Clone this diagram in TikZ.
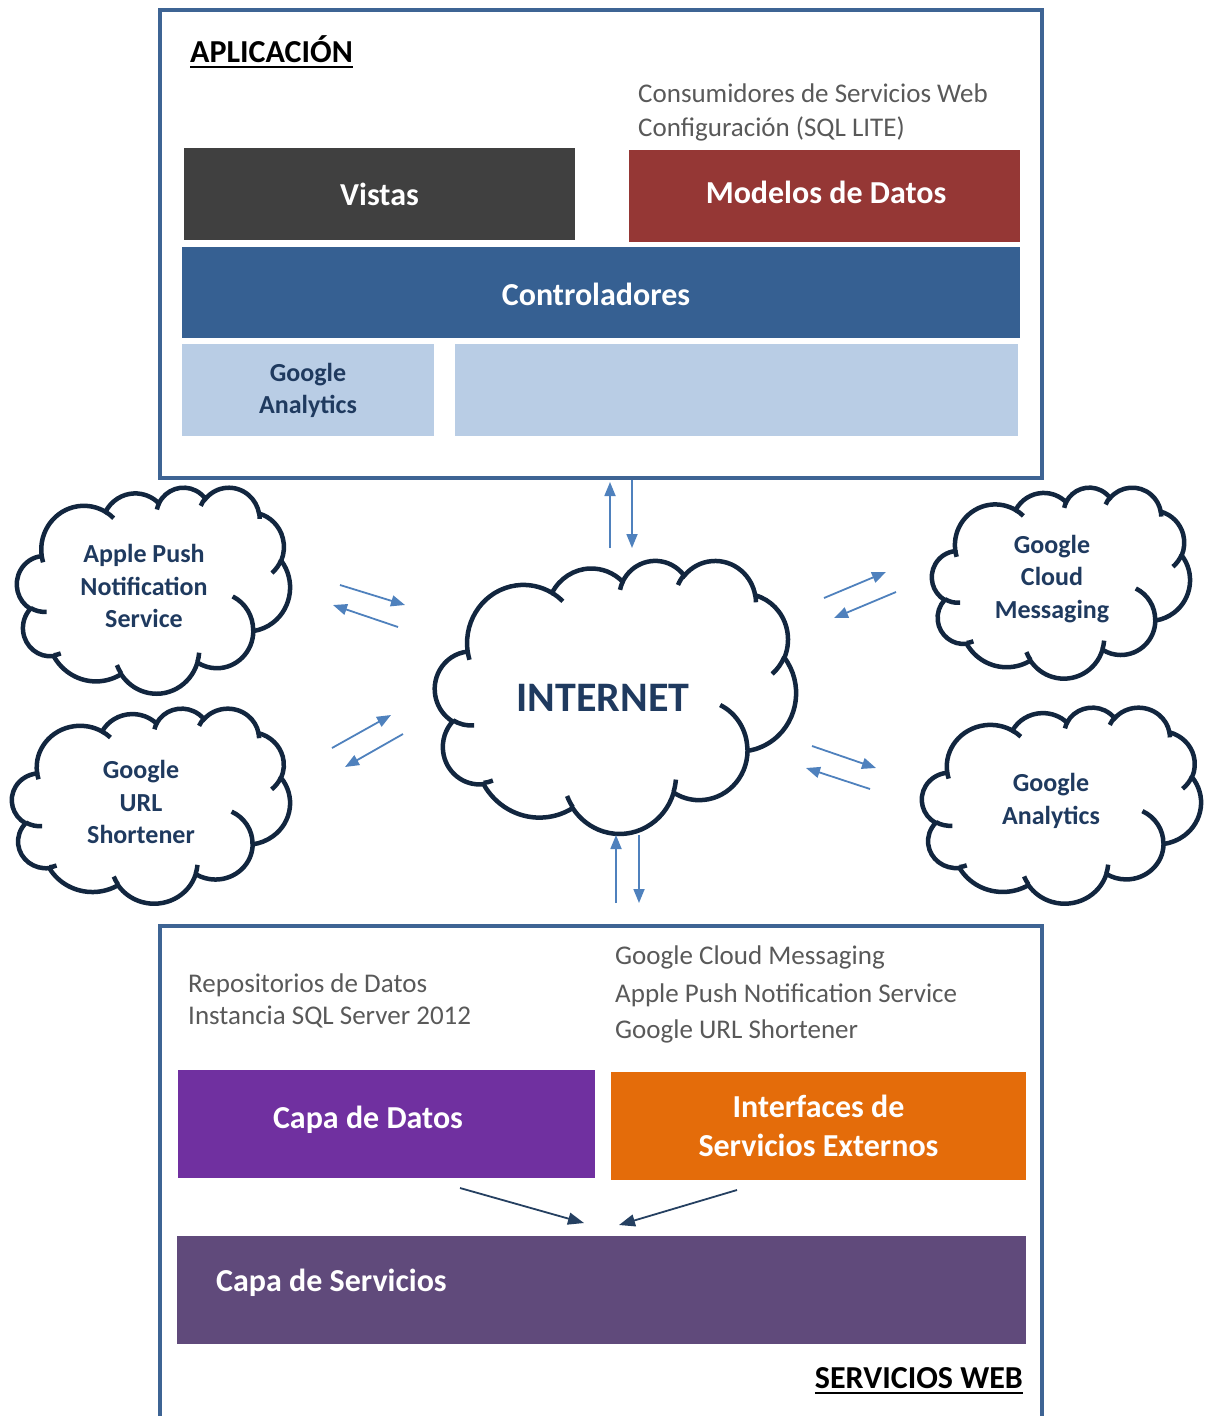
\documentclass[tikz,border=0pt]{standalone}
\usepackage{fontspec}
\setmainfont{Carlito}
\usetikzlibrary{arrows.meta,positioning}
\definecolor{framecol}{HTML}{3E6494}
\definecolor{cloudline}{HTML}{12263F}
\definecolor{cloudtext}{HTML}{1F3A5F}
\definecolor{flowblue}{HTML}{4F81BD}
\definecolor{notegray}{HTML}{595959}
\definecolor{vistagray}{HTML}{404040}
\definecolor{modelred}{HTML}{953735}
\definecolor{ctrlblue}{HTML}{366092}
\definecolor{lightblue}{HTML}{B9CDE5}
\definecolor{datapurple}{HTML}{7030A0}
\definecolor{extorange}{HTML}{E46C0A}
\definecolor{servpurple}{HTML}{604A7B}
\definecolor{darkarrow}{HTML}{254061}

% visual angle -> parametric angle of an ellipse arc
\pgfmathdeclarefunction{ppa}{3}{%
  \begingroup
    \pgfmathparse{atan2(#2*sin(#1),#3*cos(#1))}%
    \pgfmathsetmacro\ppat{\pgfmathresult}%
    \pgfmathparse{\ppat+360*round((#1-\ppat)/360)}%
    \pgfmathsmuggle\pgfmathresult
  \endgroup}

% cloud outline, unit box 4320 x 4320
\def\cloudouter{675.3/919.0/-190.48748/123.78053, 533.3/726.7/-144.10238/89.94523,
  436.5/594.5/-145.80792/99.72302, 485.7/659.5/-130.98607/117.24173,
  533.3/727.3/-78.70888/109.02692, 677.5/922.0/-46.26725/130.269,
  578.5/786.7/0.62502/114.03333, 675.2/921.5/22.4516/115.17255,
  772.0/1054.3/66.24263/75.71102, 436.0/591.8/-274.94208/146.73557,
  434.5/594.5/-246.8285/152.51885}
\def\cloudinner{469.3/2617.7/434.5/594.5/86.742/26.4295, 692.8/3489.9/436.0/591.8/73.6105/11.4475,
  1647.8/3909.0/675.2/921.5/137.6242/14.0811, 2882.7/3475.1/675.2/921.5/6.4533/15.9984,
  3412.9/2295.4/578.5/786.7/-70.2924/70.9174, 4179.8/1535.4/533.3/727.3/30.3180/27.7515,
  3832.4/542.6/485.7/659.5/-13.7443/14.8589, 2907.8/395.2/485.7/659.5/-149.1815/18.1954,
  2214.1/472.0/436.5/594.5/-163.4943/17.6864, 1400.0/519.2/675.3/919.0/-66.7070/12.3194,
  412.7/1578.9/675.3/919.0/157.6544/11.8582}

\newcommand{\officecloud}[4]{%
  \pgfmathsetmacro\cldw{#3/4320}%
  \pgfmathsetmacro\cldh{#4/4320}%
  \begin{scope}[shift={(#1,#2)}, x=\cldw pt, y=-\cldh pt]
    \draw[cloudedge, fill=white] (390,1437)
      \foreach \rx/\ry/\sa/\sw in \cloudouter {
        arc[x radius=\rx, y radius=\ry, start angle={ppa(\sa,\rx,\ry)}, end angle={ppa(\sa+\sw,\rx,\ry)}]
      } -- cycle;
    \draw[cloudedge]
      \foreach \px/\py/\rx/\ry/\sa/\sw in \cloudinner {
        (\px,\py) arc[x radius=\rx, y radius=\ry, start angle={ppa(\sa,\rx,\ry)}, end angle={ppa(\sa+\sw,\rx,\ry)}]
      };
  \end{scope}}

\begin{document}
\begin{tikzpicture}[x=1pt,y=-1pt,
    layer/.style={inner sep=0, text=white, align=center, font=\bfseries\fontsize{32}{39}\selectfont},
    cloudedge/.style={draw=cloudline, line width=4.5pt},
    cloudtxt/.style={text=cloudtext, align=center, inner sep=0, font=\bfseries\fontsize{26}{32.5}\selectfont},
    flow/.style={draw=flowblue, line width=1.8pt, -{Triangle[length=14pt,width=11pt]}},
    feed/.style={draw=darkarrow, line width=1.8pt, -{Triangle[length=16pt,width=12pt]}},
    note/.style={text=notegray, anchor=base west, inner sep=0, font=\fontsize{27}{32}\selectfont},
    title/.style={inner sep=0, text=black, font=\bfseries\fontsize{32}{36}\selectfont},
    frame/.style={draw=framecol, line width=3.8pt}
  ]
  \useasboundingbox (0,0) rectangle (1208,1416);

  % Application frame
  \draw[frame] (160,10) rectangle (1042,478);
  \node[title, anchor=base west] (apl) at (190,62) {APLICACIÓN};
  \draw[line width=2.8pt] ([yshift=-5pt]apl.base west) -- ([yshift=-5pt]apl.base east);
  \node[note] (cons) at (638,102) {Consumidores de Servicios Web};
  \node[note] (conf) at (638,136) {Configuración (SQL LITE)};

  \node[layer, fill=vistagray, minimum width=391pt, minimum height=92pt] (vistas) at (379.5,194) {Vistas};
  \node[layer, fill=modelred, minimum width=391pt, minimum height=92pt] (modelos) at (824.5,196) {};
  \node[layer] (modtxt) at (826,192) {Modelos de Datos};
  \node[layer, fill=ctrlblue, minimum width=838pt, minimum height=91pt] (ctrl) at (601,292.5) {};
  \node[layer] (ctrltxt) at (596,294) {Controladores};
  \node[layer, fill=lightblue, text=cloudtext, minimum width=252pt, minimum height=92pt,
    font=\bfseries\fontsize{26}{32}\selectfont] (gaapp) at (308,390) {Google\\Analytics};
  \node[layer, fill=lightblue, minimum width=563pt, minimum height=92pt] (extra) at (736.5,390) {};

  % Clouds
  \officecloud{435}{560}{361}{273}
  \officecloud{17}{487}{273}{206}
  \officecloud{12}{708}{278}{195}
  \officecloud{932}{487}{258}{191}
  \officecloud{922}{707}{279}{196}
  \node[text=cloudtext, font=\bfseries\fontsize{42}{44}\selectfont] (inet) at (603,698) {INTERNET};
  \node[cloudtxt] (aps) at (144,586) {Apple Push\\Notification\\Service};
  \node[cloudtxt] (url) at (141,802) {Google\\URL\\Shortener};
  \node[cloudtxt] (gcm) at (1052,579) {Google\\Cloud\\Messaging};
  \node[cloudtxt] (gan) at (1051,801) {Google\\Analytics};

  % Arrows around the internet
  \coordinate (upA) at (610,548);   \coordinate (upB) at (610,482);
  \coordinate (dnA) at (632,480);   \coordinate (dnB) at (632,548);
  \coordinate (bupA) at (616,903);  \coordinate (bupB) at (616,835);
  \coordinate (bdnA) at (639,835);  \coordinate (bdnB) at (639,903);
  \coordinate (apsA) at (340,585);  \coordinate (apsB) at (405,605);
  \coordinate (apsC) at (398,627);  \coordinate (apsD) at (333,605);
  \coordinate (urlA) at (332,748);  \coordinate (urlB) at (391,715);
  \coordinate (urlC) at (403,734);  \coordinate (urlD) at (345,767);
  \coordinate (gcmA) at (824,598);  \coordinate (gcmB) at (886,572);
  \coordinate (gcmC) at (896,592);  \coordinate (gcmD) at (834,618);
  \coordinate (ganA) at (812,746);  \coordinate (ganB) at (876,768);
  \coordinate (ganC) at (870,789);  \coordinate (ganD) at (806,768);
  \draw[flow] (upA) -- (upB);
  \draw[flow] (dnA) -- (dnB);
  \draw[flow] (bupA) -- (bupB);
  \draw[flow] (bdnA) -- (bdnB);
  \draw[flow] (apsA) -- (apsB);
  \draw[flow] (apsC) -- (apsD);
  \draw[flow] (urlA) -- (urlB);
  \draw[flow] (urlC) -- (urlD);
  \draw[flow] (gcmA) -- (gcmB);
  \draw[flow] (gcmC) -- (gcmD);
  \draw[flow] (ganA) -- (ganB);
  \draw[flow] (ganC) -- (ganD);

  % Web services frame
  \draw[frame] (160,1430) -- (160,926) -- (1042,926) -- (1042,1430);
  \node[note] (repo) at (188,992) {Repositorios de Datos};
  \node[note] (inst) at (188,1024) {Instancia SQL Server 2012};
  \node[note] (ngcm) at (615,964) {Google Cloud Messaging};
  \node[note] (naps) at (615,1002) {Apple Push Notification Service};
  \node[note] (nurl) at (615,1038) {Google URL Shortener};

  \node[layer, fill=datapurple, minimum width=417pt, minimum height=108pt] (datos) at (386.5,1124) {};
  \node[layer] (datostxt) at (368,1120) {Capa de Datos};
  \node[layer, fill=extorange, minimum width=415pt, minimum height=108pt] (ext) at (818.5,1126) {Interfaces de\\Servicios Externos};
  \node[layer, fill=servpurple, minimum width=849pt, minimum height=108pt] (serv) at (601.5,1290) {};
  \node[layer, anchor=west] (servtxt) at (216,1283) {Capa de Servicios};

  \coordinate (datA) at (460,1188); \coordinate (datB) at (584,1223);
  \coordinate (extA) at (737,1190); \coordinate (extB) at (619,1225);
  \draw[feed] (datA) -- (datB);
  \draw[feed] (extA) -- (extB);

  \node[title, anchor=base east] (sw) at (1023,1388) {SERVICIOS WEB};
  \draw[line width=2.8pt] ([yshift=-5pt]sw.base west) -- ([yshift=-5pt]sw.base east);
\end{tikzpicture}
\end{document}
